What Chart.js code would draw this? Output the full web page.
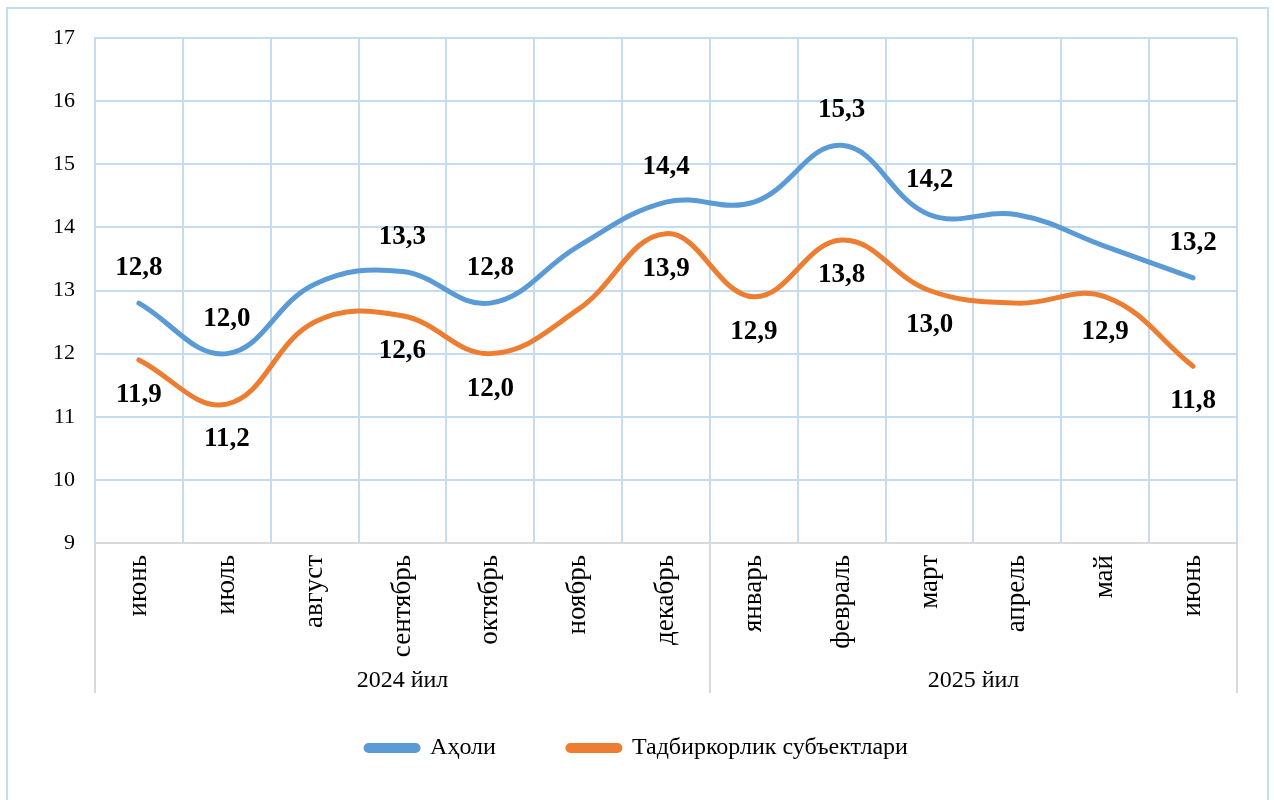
<!DOCTYPE html>
<html>
<head>
<meta charset="utf-8">
<script src="https://cdn.jsdelivr.net/npm/chart.js@4.4.1/dist/chart.umd.min.js"></script>
<style>
  html, body { margin: 0; padding: 0; background: #fff; overflow: hidden; }
  #wrap { position: relative; width: 1274px; height: 800px; }
  #frame { position: absolute; left: 6px; top: 7px; width: 1259px; height: 900px; border: 2px solid #c5dcf0; }
  canvas { position: absolute; left: 0; top: 0; }
</style>
</head>
<body>
<div id="wrap">
  <div id="frame"></div>
  <canvas id="chart" width="1274" height="800"></canvas>
</div>
<script>
// months along the axis and the year groups under them
var months = ["июнь", "июль", "август", "сентябрь", "октябрь", "ноябрь", "декабрь",
              "январь", "февраль", "март", "апрель", "май", "июнь"];
var groupLabels = ["2024 йил", "2025 йил"];
var groupSizes = [7, 6];

var aholi = [12.8, 12.0, 13.1, 13.3, 12.8, 13.7, 14.4, 14.4, 15.3, 14.2, 14.2, 13.7, 13.2];
var subyekt = [11.9, 11.2, 12.5, 12.6, 12.0, 12.7, 13.9, 12.9, 13.8, 13.0, 12.8, 12.9, 11.8];

// which points carry a value label in the original
var aholiLabelled = [1, 1, 0, 1, 1, 0, 1, 0, 1, 1, 0, 0, 1];
var subyektLabelled = [1, 1, 0, 1, 1, 0, 1, 1, 1, 1, 0, 1, 1];

var yTicks = [9, 10, 11, 12, 13, 14, 15, 16, 17];

var serif = "'Liberation Serif', 'Times New Roman', serif";

// value labels: above for the blue line, below for the orange one
var valueLabels = {
    id: 'valueLabels',
    afterDatasetsDraw: function (chart) {
        var ctx = chart.ctx;
        var flags = [aholiLabelled, subyektLabelled];
        var shift = [-35, 35];
        ctx.save();
        ctx.font = "bold 27px " + serif;
        ctx.fillStyle = '#000';
        ctx.textAlign = 'center';
        ctx.textBaseline = 'middle';
        chart.data.datasets.forEach(function (ds, d) {
            var meta = chart.getDatasetMeta(d);
            meta.data.forEach(function (pt, i) {
                if (!flags[d][i]) return;
                var txt = ds.data[i].toFixed(1).replace('.', ',');
                ctx.fillText(txt, pt.x, pt.y + shift[d]);
            });
        });
        ctx.restore();
    }
};

// year groups under the month labels
var yearGroups = {
    id: 'yearGroups',
    afterDraw: function (chart) {
        var ctx = chart.ctx;
        var x = chart.scales.x;
        var top = chart.chartArea.bottom;
        var lineEnd = 693;
        var half = (x.getPixelForValue(1) - x.getPixelForValue(0)) / 2;
        ctx.save();
        ctx.strokeStyle = '#d9d9d9';
        ctx.lineWidth = 2;
        ctx.font = "24px " + serif;
        ctx.fillStyle = '#000';
        ctx.textAlign = 'center';
        ctx.textBaseline = 'middle';
        var start = 0;
        var edges = [x.getPixelForValue(0) - half];
        groupSizes.forEach(function (n, g) {
            var end = start + n - 1;
            var right = x.getPixelForValue(end) + half;
            edges.push(right);
            var mid = (x.getPixelForValue(start) - half + right) / 2;
            ctx.fillText(groupLabels[g], mid, 681);
            start = end + 1;
        });
        edges.forEach(function (e) {
            ctx.beginPath();
            ctx.moveTo(e, top);
            ctx.lineTo(e, lineEnd);
            ctx.stroke();
        });
        ctx.restore();
    }
};

var ctx = document.getElementById('chart').getContext('2d');
var myChart = new Chart(ctx, {
    type: 'line',
    data: {
        labels: months,
        datasets: [{
            label: 'Аҳоли',
            data: aholi,
            borderColor: '#5b9bd5',
            backgroundColor: '#5b9bd5',
            borderWidth: 5,
            pointRadius: 0,
            tension: 0.4,
            borderCapStyle: 'round'
        }, {
            label: 'Тадбиркорлик субъектлари',
            data: subyekt,
            borderColor: '#ed7d31',
            backgroundColor: '#ed7d31',
            borderWidth: 5,
            pointRadius: 0,
            tension: 0.4,
            borderCapStyle: 'round'
        }]
    },
    options: {
        responsive: false,
        animation: false,
        layout: { padding: { top: 38, right: 37, left: 37, bottom: 30 } },
        plugins: {
            tooltip: { enabled: false },
            legend: {
                position: 'bottom',
                labels: {
                    boxWidth: 52,
                    boxHeight: 5,
                    useBorderRadius: true,
                    borderRadius: 2.5,
                    padding: 72,
                    color: '#000',
                    font: { family: serif, size: 24 }
                }
            }
        },
        scales: {
            x: {
                offset: true,
                grid: { offset: true, color: '#c5dcf0', lineWidth: 2, drawTicks: false },
                border: { color: '#d9d9d9', width: 2 },
                ticks: {
                    autoSkip: false,
                    minRotation: 90,
                    maxRotation: 90,
                    padding: 12,
                    color: '#000',
                    font: { family: serif, size: 27 }
                },
                afterFit: function (scale) { scale.height = 121; }
            },
            y: {
                min: yTicks[0],
                max: yTicks[yTicks.length - 1],
                afterBuildTicks: function (scale) {
                    scale.ticks = yTicks.map(function (v) { return { value: v }; });
                },
                grid: { color: '#c5dcf0', lineWidth: 2, drawTicks: false },
                border: { color: '#c5dcf0', width: 2 },
                ticks: {
                    padding: 20,
                    color: '#000',
                    font: { family: serif, size: 22 }
                },
                afterFit: function (scale) { scale.width = 58; }
            }
        }
    },
    plugins: [valueLabels, yearGroups]
});
</script>
</body>
</html>
